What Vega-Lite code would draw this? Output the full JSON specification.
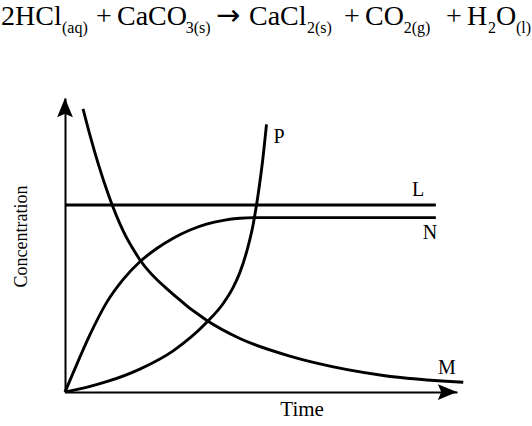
{
  "$schema": "https://vega.github.io/schema/vega-lite/v6.json",
  "width": 392,
  "height": 294,
  "autosize": "none",
  "padding": {"left": 65, "top": 98, "right": 75, "bottom": 34},
  "background": "white",
  "config": {"view": {"stroke": null}, "font": "Liberation Serif"},
  "datasets": {
    "curves": [
      {"s": "L", "t": 0, "c": 63.6}, {"s": "L", "t": 94.6, "c": 63.6},
      {"s": "N", "t": 0, "c": 0}, {"s": "N", "t": 2.1, "c": 6.6}, {"s": "N", "t": 6.4, "c": 19.6},
      {"s": "N", "t": 10.6, "c": 30.4}, {"s": "N", "t": 14.9, "c": 38.4}, {"s": "N", "t": 19.1, "c": 44.3},
      {"s": "N", "t": 23.4, "c": 48.8}, {"s": "N", "t": 27.6, "c": 52.3}, {"s": "N", "t": 31.9, "c": 55.1},
      {"s": "N", "t": 36.1, "c": 57.1}, {"s": "N", "t": 40.4, "c": 58.4}, {"s": "N", "t": 44.6, "c": 59.1},
      {"s": "N", "t": 48.0, "c": 59.3}, {"s": "N", "t": 94.6, "c": 59.3},
      {"s": "M", "t": 4.6, "c": 96.3}, {"s": "M", "t": 6.4, "c": 87.2}, {"s": "M", "t": 8.5, "c": 77.5},
      {"s": "M", "t": 11.1, "c": 67.0}, {"s": "M", "t": 14.9, "c": 54.6}, {"s": "M", "t": 19.1, "c": 45.0},
      {"s": "M", "t": 27.6, "c": 33.2}, {"s": "M", "t": 36.1, "c": 24.4}, {"s": "M", "t": 44.6, "c": 18.2},
      {"s": "M", "t": 57.4, "c": 12.2}, {"s": "M", "t": 64.2, "c": 9.8}, {"s": "M", "t": 81.2, "c": 5.6},
      {"s": "M", "t": 101.6, "c": 3.3},
      {"s": "P", "t": 0, "c": 0}, {"s": "P", "t": 6.4, "c": 1.9}, {"s": "P", "t": 10.6, "c": 3.5},
      {"s": "P", "t": 19.1, "c": 7.8}, {"s": "P", "t": 27.6, "c": 14.0}, {"s": "P", "t": 36.1, "c": 23.6},
      {"s": "P", "t": 40.4, "c": 30.2}, {"s": "P", "t": 42.9, "c": 35.6}, {"s": "P", "t": 44.6, "c": 40.6},
      {"s": "P", "t": 46.4, "c": 48.0}, {"s": "P", "t": 48.0, "c": 57.0}, {"s": "P", "t": 49.3, "c": 67.5},
      {"s": "P", "t": 50.4, "c": 78.5}, {"s": "P", "t": 51.4, "c": 91.0}
    ],
    "labels": [
      {"label": "P", "t": 54.6, "c": 86.7},
      {"label": "L", "t": 90.1, "c": 68.7},
      {"label": "N", "t": 93.1, "c": 54.1},
      {"label": "M", "t": 97.4, "c": 8.2}
    ],
    "axisnames": [
      {"name": "Time", "t": 60.5, "c": -6.1},
      {"name": "Concentration", "t": -11.0, "c": 52.9}
    ],
    "arrows": [
      {"axis": "y", "t": 0, "c": 100},
      {"axis": "x", "t": 100, "c": 0}
    ],
    "equation": [
      {"part": "main", "txt": "2HCl", "t": -16.33, "c": 124.83},
      {"part": "sub", "txt": "(aq)", "t": -0.77, "c": 122.11},
      {"part": "main", "txt": "+", "t": 7.91, "c": 124.83},
      {"part": "main", "txt": "CaCO", "t": 13.27, "c": 124.83},
      {"part": "sub", "txt": "3(s)", "t": 30.8, "c": 122.11},
      {"part": "arrow", "txt": "→", "t": 38.5, "c": 124.83},
      {"part": "main", "txt": "CaCl", "t": 46.94, "c": 124.83},
      {"part": "sub", "txt": "2(s)", "t": 61.73, "c": 122.11},
      {"part": "main", "txt": "+", "t": 71.17, "c": 124.83},
      {"part": "main", "txt": "CO", "t": 76.53, "c": 124.83},
      {"part": "sub", "txt": "2(g)", "t": 86.4, "c": 122.11},
      {"part": "main", "txt": "+", "t": 97.19, "c": 124.83},
      {"part": "main", "txt": "H", "t": 102.55, "c": 124.83},
      {"part": "sub", "txt": "2", "t": 107.91, "c": 122.11},
      {"part": "main", "txt": "O", "t": 109.95, "c": 124.83},
      {"part": "sub", "txt": "(l)", "t": 115.05, "c": 122.11}
    ]
  },
  "encoding": {
    "x": {"field": "t", "type": "quantitative", "scale": {"domain": [0, 100], "nice": false, "zero": false},
          "axis": {"domain": true, "domainColor": "black", "domainWidth": 2, "ticks": false, "labels": false, "grid": false, "title": null}},
    "y": {"field": "c", "type": "quantitative", "scale": {"domain": [0, 100], "nice": false, "zero": false},
          "axis": {"domain": true, "domainColor": "black", "domainWidth": 2, "ticks": false, "labels": false, "grid": false, "title": null}}
  },
  "layer": [
    {
      "data": {"name": "curves"},
      "mark": {"type": "line", "color": "black", "strokeWidth": 2.9, "interpolate": "monotone", "clip": false},
      "encoding": {
        "detail": {"field": "s", "type": "nominal"}
      }
    },
    {
      "data": {"name": "arrows"},
      "mark": {"type": "point", "filled": true, "color": "black", "opacity": 1, "strokeWidth": 0,
               "shape": "M0,0L-1.75,4.25L0,3.5L1.75,4.25Z", "size": 81},
      "encoding": {
        "angle": {"field": "axis", "type": "nominal", "scale": {"domain": ["y", "x"], "range": [0, 90]}, "legend": null}
      }
    },
    {
      "data": {"name": "labels"},
      "mark": {"type": "text", "fontSize": 20, "align": "center", "baseline": "middle", "color": "black"},
      "encoding": {
        "text": {"field": "label"}
      }
    },
    {
      "data": {"name": "axisnames"},
      "transform": [{"filter": "datum.name === 'Time'"}],
      "mark": {"type": "text", "fontSize": 21, "align": "center", "baseline": "middle", "color": "black"},
      "encoding": {
        "text": {"field": "name"}
      }
    },
    {
      "data": {"name": "axisnames"},
      "transform": [{"filter": "datum.name === 'Concentration'"}],
      "mark": {"type": "text", "fontSize": 18, "align": "center", "baseline": "middle", "angle": 270, "color": "black"},
      "encoding": {
        "text": {"field": "name"}
      }
    },
    {
      "data": {"name": "equation"},
      "transform": [{"filter": "datum.part === 'main'"}],
      "mark": {"type": "text", "fontSize": 28, "align": "left", "baseline": "alphabetic", "color": "black"},
      "encoding": {
        "text": {"field": "txt"}
      }
    },
    {
      "data": {"name": "equation"},
      "transform": [{"filter": "datum.part === 'arrow'"}],
      "mark": {"type": "text", "fontSize": 29, "font": "DejaVu Sans", "align": "left", "baseline": "alphabetic", "color": "black"},
      "encoding": {
        "text": {"field": "txt"}
      }
    },
    {
      "data": {"name": "equation"},
      "transform": [{"filter": "datum.part === 'sub'"}],
      "mark": {"type": "text", "fontSize": 16, "align": "left", "baseline": "alphabetic", "color": "black"},
      "encoding": {
        "text": {"field": "txt"}
      }
    }
  ]
}
